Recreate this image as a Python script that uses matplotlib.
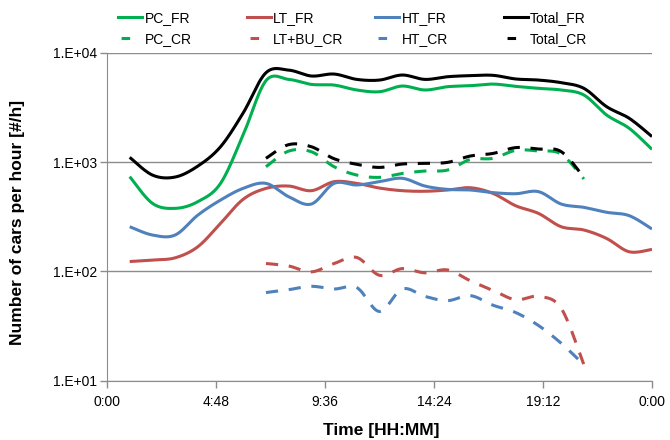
import numpy as np
import matplotlib
matplotlib.use("Agg")
import matplotlib.pyplot as plt
from matplotlib.lines import Line2D

plt.rcParams['font.family'] = ['Liberation Sans', 'DejaVu Sans']

# hourly values (cars per hour)
hours_fr = list(range(1, 25))
hours_cr = list(range(7, 22))

pc_fr = [735, 419, 377, 434, 638, 1778, 5546, 5702, 5129, 5058, 4560, 4395,
         4955, 4560, 4887, 4989, 5164, 4920, 4721, 4560, 4102, 2692, 2032, 1306]
lt_fr = [123, 127, 133, 168, 275, 457, 574, 603, 547, 661, 638, 578,
         547, 540, 555, 582, 516, 398, 339, 256, 239, 200, 151, 159]
ht_fr = [256, 215, 215, 327, 449, 575, 638, 482, 413, 638, 617, 661,
         710, 603, 562, 555, 525, 513, 536, 413, 385, 347, 323, 244]
total_fr = [1104, 760, 729, 918, 1380, 2820, 6560, 6930, 6120, 6380, 5700, 5620,
            6250, 5700, 6030, 6170, 6210, 5750, 5620, 5320, 4720, 3210, 2510, 1710]

pc_cr = [906, 1259, 1242, 906, 760, 724, 787, 828, 845, 1057, 1081, 1279, 1262, 1183, 700]
lt_bu_cr = [118, 112, 99, 118, 134, 92, 106, 97, 103, 82, 67, 55, 59, 46, 14]
ht_cr = [64, 68, 73, 69, 71, 43, 69, 59, 54, 60, 49, 42, 32, 22, 14]
total_cr = [1081, 1442, 1380, 1072, 953, 893, 959, 973, 993, 1135, 1199, 1355, 1315, 1245, 725]

xticks = [0, 4.8, 9.6, 14.4, 19.2, 24]
xtick_labels = ["0:00", "4:48", "9:36", "14:24", "19:12", "0:00"]
yticks = [10, 100, 1000, 10000]
ytick_labels = ["1.E+01", "1.E+02", "1.E+03", "1.E+04"]

GREEN, RED, BLUE, BLACK = "#00B050", "#C0504D", "#4F81BD", "#000000"
GRAY = "#8C8C8C"


def smooth(x, y, n=24):
    """Excel-style smoothed line: Catmull-Rom bezier drawn in (x, log y) space."""
    x = np.asarray(x, float)
    ly = np.log10(np.asarray(y, float))
    px = np.concatenate([[x[0]], x, [x[-1]]])
    py = np.concatenate([[ly[0]], ly, [ly[-1]]])
    t = np.linspace(0, 1, n)[:, None]
    xs, ys = [], []
    for i in range(1, len(px) - 2):
        p0 = np.array([px[i], py[i]])
        p3 = np.array([px[i + 1], py[i + 1]])
        c1 = p0 + (p3 - np.array([px[i - 1], py[i - 1]])) / 6
        c2 = p3 - (np.array([px[i + 2], py[i + 2]]) - p0) / 6
        b = ((1 - t) ** 3) * p0 + 3 * ((1 - t) ** 2) * t * c1 + 3 * (1 - t) * t ** 2 * c2 + t ** 3 * p3
        xs.append(b[:, 0]); ys.append(b[:, 1])
    return np.concatenate(xs), 10 ** np.concatenate(ys)


fig = plt.figure(figsize=(6.7, 4.4), dpi=100)
ax = fig.add_axes([107 / 670, 1 - 380.7 / 440, 545 / 670, 328 / 440])

dash = (0, (4, 3.5))
lw = 2.2
series = [
    (hours_fr, pc_fr, GREEN, "-", "PC_FR"),
    (hours_fr, lt_fr, RED, "-", "LT_FR"),
    (hours_fr, ht_fr, BLUE, "-", "HT_FR"),
    (hours_fr, total_fr, BLACK, "-", "Total_FR"),
    (hours_cr, pc_cr, GREEN, dash, "PC_CR"),
    (hours_cr, lt_bu_cr, RED, dash, "LT+BU_CR"),
    (hours_cr, ht_cr, BLUE, dash, "HT_CR"),
    (hours_cr, total_cr, BLACK, dash, "Total_CR"),
]
for hx, vals, c, ls, lab in series:
    sx, sy = smooth(hx, vals)
    ax.plot(sx, sy, color=c, ls=ls, lw=lw, label=lab, solid_capstyle="butt", dash_capstyle="butt")

ax.set_yscale("log")
ax.set_ylim(10, 10000)
ax.set_xlim(0, 24)
ax.set_yticks(yticks)
ax.set_yticklabels(ytick_labels)
ax.yaxis.set_minor_locator(matplotlib.ticker.NullLocator())
ax.set_xticks(xticks)
ax.set_xticklabels(xtick_labels)
ax.tick_params(axis="both", colors=GRAY, labelcolor="black", labelsize=10, width=1)
ax.tick_params(axis="y", length=5, pad=2)
ax.tick_params(axis="x", length=5, pad=5)
ax.grid(axis="y", color=GRAY, lw=1)
ax.set_axisbelow(True)
for s in ("top", "right"):
    ax.spines[s].set_visible(False)
for s in ("left", "bottom"):
    ax.spines[s].set_color(GRAY)

ax.set_xlabel("Time [HH:MM]", fontsize=12.5, fontweight="bold")
ax.xaxis.set_label_coords(0.503, -0.128)
ax.set_ylabel("Number of cars per hour [#/h]", fontsize=12.5, fontweight="bold")
ax.yaxis.set_label_coords(-0.15, 0.484)

# legend: four evenly spaced columns above the plot
col_x = [118, 246.5, 375, 503.5]
legend_dash = (21.8, (2.8, 20))  # single short dash, like the Excel legend key
for i, cx in enumerate(col_x):
    s_fr = series[i]
    s_cr = series[i + 4]
    handles = [Line2D([], [], color=s_fr[2], lw=lw, ls="-"),
               Line2D([], [], color=s_cr[2], lw=lw, ls=legend_dash)]
    fig.legend(handles, [s_fr[4], s_cr[4]], loc="upper left",
               bbox_to_anchor=(cx / 670, 1 - 11 / 440), frameon=False,
               fontsize=10, handlelength=1.75, handletextpad=0.15,
               labelspacing=0.5, borderpad=0, borderaxespad=0)

fig.savefig("out.png", dpi=100)
